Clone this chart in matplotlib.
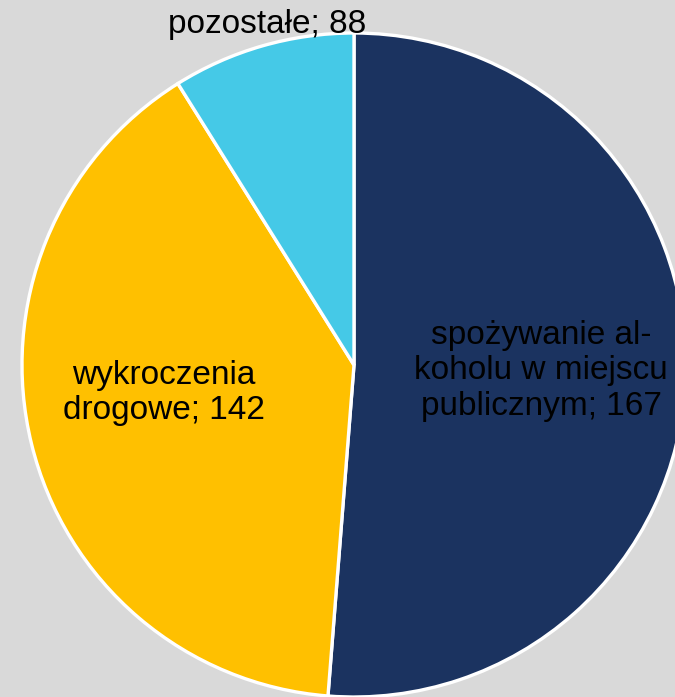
import matplotlib.pyplot as plt

# category labels and values shown in the labels
categories = ["spożywanie al-\nkoholu w miejscu\npublicznym", "wykroczenia\ndrogowe", "pozostałe"]
values = [167, 142, 88]
# slice shares as drawn in the picture (percent)
shares = [51.25, 39.85, 8.9]
colors = ["#1b3360", "#ffc000", "#45c9e7"]

plt.rcParams['font.family'] = ['Liberation Sans', 'DejaVu Sans']

W, H = 675, 697
fig = plt.figure(figsize=(W / 100, H / 100), dpi=100, facecolor="#d9d9d9")
ax = fig.add_axes([0, 0, 1, 1])
ax.set_facecolor("#d9d9d9")

cx, cy, r = 354, H - 365, 332
wedges, _ = ax.pie(shares, colors=colors, startangle=90, counterclock=False,
                   center=(cx, cy), radius=r, frame=True,
                   wedgeprops=dict(edgecolor="white", linewidth=2.4))

label_pos = [(541, H - 371), (164, H - 393), (267, H - 25)]
for cat, v, (x, y) in zip(categories, values, label_pos):
    ax.text(x, y, f"{cat}; {v}", ha="center", va="center", fontsize=24,
            color="black", linespacing=1.2)

ax.set_xlim(0, W)
ax.set_ylim(0, H)
ax.set_aspect("equal")
ax.axis("off")

fig.savefig("out.png", dpi=100, facecolor=fig.get_facecolor())
